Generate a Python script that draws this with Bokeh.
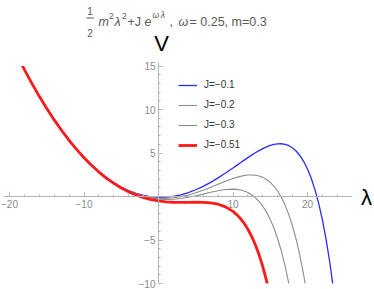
from bokeh.plotting import figure
from bokeh.models import (ColumnDataSource, FixedTicker, Label, Legend, LegendItem, Range1d,
                          Arrow, BoxAnnotation)
from bokeh.embed import file_html
from bokeh.resources import INLINE

# ---------------- data ----------------
LAM = [-20, -19, -18, -17, -16, -15, -14, -13, -12, -11, -10, -9, -8, -7, -6, -5, -4, -3, -2, -1,
       0, 1, 2, 3, 4, 5, 6, 7, 8, 9, 10,
       10.5, 11, 11.5, 12, 12.5, 13, 13.5, 14, 14.5, 15, 15.5, 16, 16.5, 17, 17.5, 18, 18.5,
       19, 19.5, 20, 20.5, 21, 21.5, 22, 22.5, 23, 23.5, 24]

V_J01 = [17.999, 16.244, 14.579, 13.004, 11.518, 10.123, 8.817, 7.601, 6.475, 5.439, 4.492, 3.634,
         2.866, 2.188, 1.598, 1.096, 0.683, 0.358, 0.119, -0.033,
         -0.100, -0.083, 0.015, 0.193, 0.448, 0.776, 1.172, 1.630, 2.141, 2.696, 3.282,
         3.581, 3.881, 4.179, 4.471, 4.755, 5.026, 5.279, 5.508, 5.709, 5.873, 5.993, 6.060, 6.064,
         5.994, 5.837, 5.578, 5.201, 4.687, 4.014, 3.159, 2.094, 0.788, -0.793, -2.689, -4.946,
         -7.614, -10.751, -14.423]

V_J02 = [17.999, 16.243, 14.578, 13.002, 11.516, 10.120, 8.814, 7.597, 6.470, 5.432, 4.484, 3.624,
         2.853, 2.170, 1.575, 1.068, 0.646, 0.311, 0.059, -0.111,
         -0.200, -0.212, -0.150, -0.018, 0.176, 0.427, 0.724, 1.054, 1.402, 1.747, 2.064,
         2.200, 2.316, 2.406, 2.463, 2.479, 2.447, 2.356, 2.197, 1.956, 1.621, 1.175, 0.600, -0.122,
         -1.016, -2.107, -3.423, -4.999, -6.872, -9.084, -11.683, -14.724, -18.268, -22.387,
         -27.158, -32.673, -39.033, -46.354, -54.766]

V_J03 = [17.998, 16.242, 14.577, 13.001, 11.515, 10.118, 8.811, 7.593, 6.465, 5.426, 4.475, 3.613,
         2.839, 2.153, 1.553, 1.039, 0.610, 0.263, -0.002, -0.189,
         -0.300, -0.340, -0.315, -0.230, -0.095, 0.078, 0.275, 0.479, 0.663, 0.799, 0.845,
         0.820, 0.752, 0.634, 0.454, 0.203, -0.132, -0.566, -1.115, -1.796, -2.631, -3.644, -4.859,
         -6.309, -8.027, -10.051, -12.425, -15.200, -18.430, -22.181, -26.524, -31.541, -37.325,
         -43.981, -51.628, -60.400, -70.452, -81.956, -95.109]

V_J051 = [17.997, 16.241, 14.574, 12.998, 11.511, 10.113, 8.805, 7.585, 6.455, 5.412, 4.458, 3.591,
          2.811, 2.116, 1.506, 0.979, 0.532, 0.164, -0.129, -0.352,
          -0.510, -0.610, -0.661, -0.675, -0.666, -0.655, -0.666, -0.730, -0.888, -1.194, -1.713,
          -2.079, -2.533, -3.089, -3.764, -4.576, -5.548, -6.703, -8.069, -9.676, -11.561, -13.762,
          -16.325, -19.301, -22.749, -26.733, -31.329, -36.620, -42.703, -49.686, -57.691, -66.858,
          -77.344, -89.328, -103.013, -118.628, -136.432, -156.721, -179.829]

SERIES = ["J=\u22120.1", "J=\u22120.2", "J=\u22120.3", "J=\u22120.51"]

X_TICKS = [-20, -10, 10, 20]
X_MINOR = [-18, -16, -14, -12, -8, -6, -4, -2, 2, 4, 6, 8, 12, 14, 16, 18, 22, 24]
X_LABELS = {-20: "\u221220", -10: "\u221210", 10: "10", 20: "20"}
Y_TICKS = [-10, -5, 5, 10, 15]
Y_MINOR = [-9, -8, -7, -6, -4, -3, -2, -1, 1, 2, 3, 4, 6, 7, 8, 9, 11, 12, 13, 14]
Y_LABELS = {-10: "\u221210", -5: "\u22125", 5: "5", 10: "10", 15: "15"}

PLOT_X = (-20.75, 26.05)    # extent of the drawn λ axis
PLOT_Y = (-10, 15)          # curves are clipped to this V range
AXIS_Y = (-10, 15.4)        # extent of the drawn V axis

# ---------------- layout ----------------
W, H = 374, 289
X0_PX, Y0_PX = 158, 196      # page position of the origin
PX_X, PX_Y = 7.45, 8.7       # pixels per unit
FONT = "Liberation Sans"
AXC = "#b4b4b4"
TC = "#5a5a5a"

x_range = Range1d(-X0_PX / PX_X, (W - X0_PX) / PX_X)
y_range = Range1d(-(H - Y0_PX) / PX_Y, Y0_PX / PX_Y)

p = figure(width=W, height=H, x_range=x_range, y_range=y_range,
           output_backend="svg", toolbar_location=None,
           min_border_left=0, min_border_right=0, min_border_top=0, min_border_bottom=0)
p.outline_line_color = None
p.grid.visible = False

for ax in (p.xaxis[0], p.yaxis[0]):
    ax.fixed_location = 0
    ax.axis_line_color = AXC
    ax.major_tick_line_color = AXC
    ax.minor_tick_line_color = AXC
    ax.major_tick_in = 4
    ax.major_tick_out = 0
    ax.minor_tick_in = 2
    ax.minor_tick_out = 0
    ax.major_label_text_font = FONT
    ax.major_label_text_font_size = "10px"
    ax.major_label_text_color = "#8a8a8a"
    ax.major_label_standoff = 3

p.xaxis[0].bounds = PLOT_X
p.yaxis[0].bounds = AXIS_Y
p.xaxis[0].ticker = FixedTicker(ticks=X_TICKS, minor_ticks=X_MINOR)
p.xaxis[0].major_label_overrides = X_LABELS
p.yaxis[0].ticker = FixedTicker(ticks=Y_TICKS, minor_ticks=Y_MINOR)
p.yaxis[0].major_label_overrides = Y_LABELS

src = ColumnDataSource(dict(lam=LAM, j01=V_J01, j02=V_J02, j03=V_J03, j051=V_J051))
r1 = p.line("lam", "j01", source=src, line_color="#2a2aff", line_width=1.3)
r2 = p.line("lam", "j02", source=src, line_color="#8c8c8c", line_width=1.1)
r3 = p.line("lam", "j03", source=src, line_color="#8c8c8c", line_width=1.1)
r4 = p.line("lam", "j051", source=src, line_color="#ff1a1a", line_width=2.8)

# white masks that clip the curves to the plotted V range (drawn right after the curves)
mask_lo = BoxAnnotation(top=PLOT_Y[0], fill_color="white", fill_alpha=1, line_color=None, level="glyph")
mask_hi = BoxAnnotation(bottom=PLOT_Y[1], fill_color="white", fill_alpha=1, line_color=None, level="glyph")
p.renderers.extend([mask_lo, mask_hi])

legend = Legend(items=[LegendItem(label=SERIES[0], renderers=[r1]),
                       LegendItem(label=SERIES[1], renderers=[r2]),
                       LegendItem(label=SERIES[2], renderers=[r3]),
                       LegendItem(label=SERIES[3], renderers=[r4])],
                location=(178, H - 150.5), orientation="vertical",
                glyph_width=19, glyph_height=12, label_height=12, spacing=8,
                label_standoff=7, padding=0, margin=0,
                border_line_color=None, background_fill_alpha=0,
                label_text_font=FONT, label_text_font_size="10px",
                label_text_color="#333333")
p.add_layout(legend)


def lab(text, cx, cy, size, color=TC, style="normal", align="left", baseline="alphabetic"):
    p.add_layout(Label(x=cx, y=H - cy, x_units="screen", y_units="screen", text=text,
                       text_font=FONT, text_font_size=f"{size}px", text_color=color,
                       text_font_style=style, text_align=align, text_baseline=baseline))


# title: 1/2 m^2 λ^2 + J e^{ωλ}, ω = 0.25, m=0.3
lab("1", 89.5, 10, 10, align="center")
lab("2", 89.5, 32, 10, align="center")
p.add_layout(Arrow(end=None, x_start=86, y_start=H - 17.5, x_end=93.5, y_end=H - 17.5,
                   start_units="screen", end_units="screen", line_color=TC, line_width=1))
lab("m", 98, 21, 12.5, style="italic")
lab("2", 108.5, 15, 8.5)
lab("\u03bb", 114, 21, 12.5, style="italic")
lab("2", 121.5, 15, 8.5)
lab("+J", 127, 21, 12.5)
lab("e", 144, 21, 12.5, style="italic")
lab("\u03c9\u2009\u03bb", 152, 14, 8.5, style="italic")
lab(",", 169, 21, 12.5)
lab("\u03c9", 178, 21, 12.5, style="italic")
lab("= 0.25, m=0.3", 189, 21, 12.5)

# axis names
lab("V", 161, 43, 22, color="black", align="center", baseline="middle")
lab("\u03bb", 366, 197, 22, color="black", align="center", baseline="middle")

open("out.html", "w").write(file_html(p, INLINE))
